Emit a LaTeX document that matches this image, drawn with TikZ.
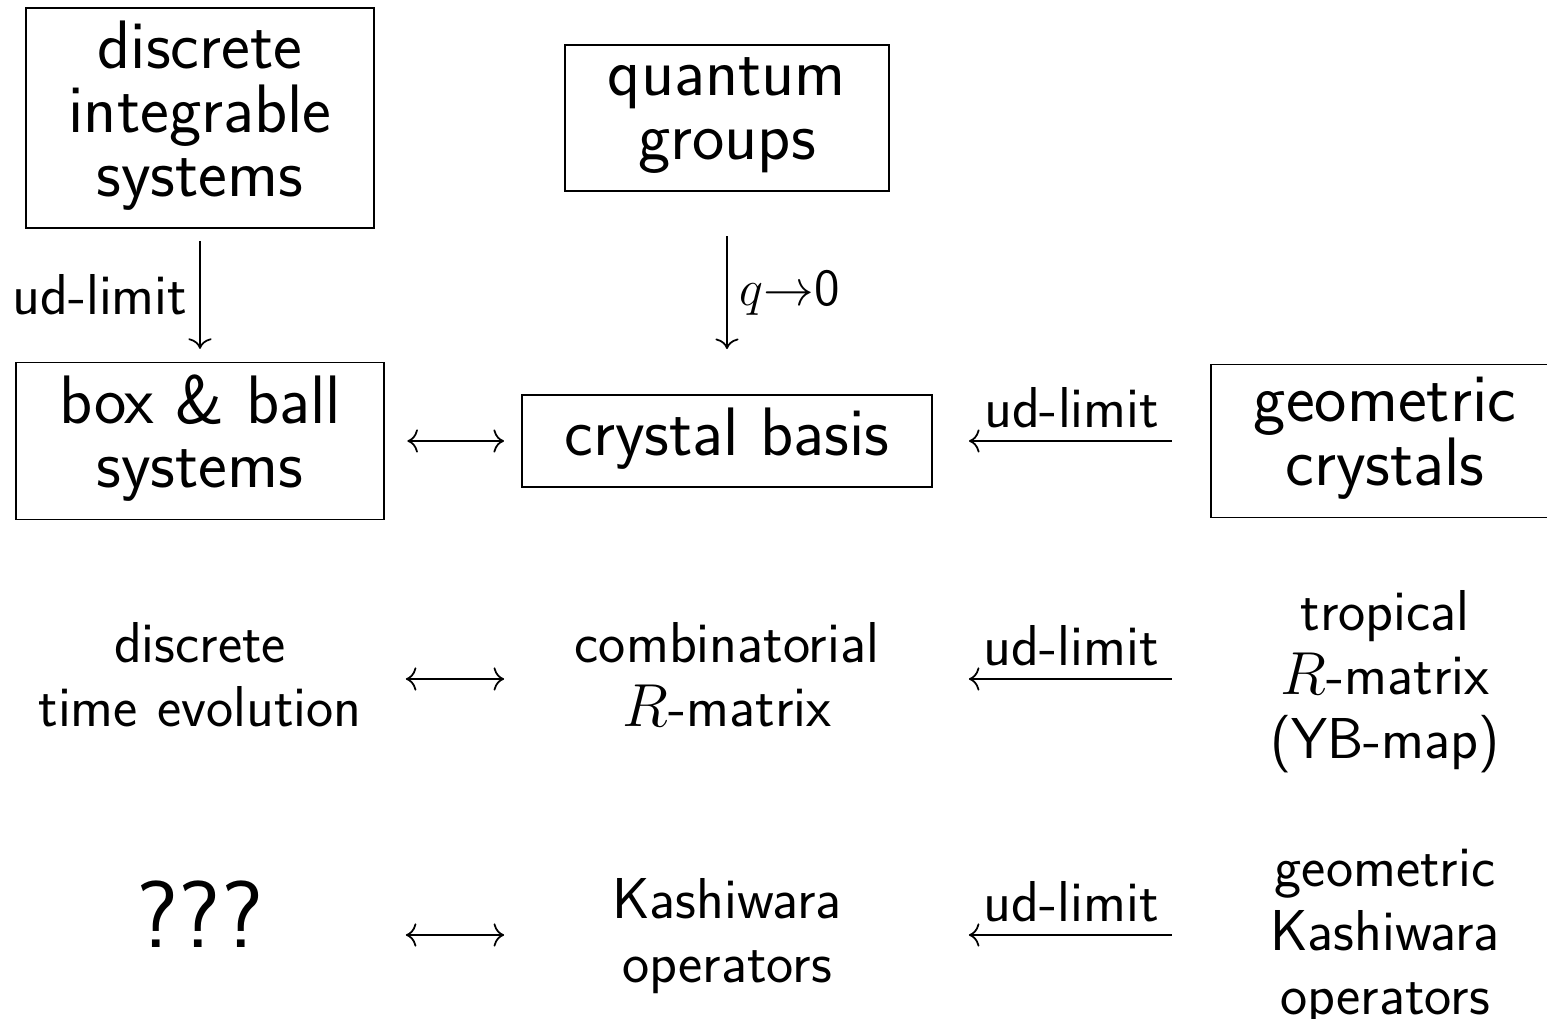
\documentclass[tikz,border=0pt]{standalone}
\usepackage{amsmath}
\usepackage{tikz}
\usetikzlibrary{arrows.meta,positioning}
\newcommand\topstrut{\rule{0pt}{14.3pt}}

\begin{document}
\begin{tikzpicture}[x=0.01cm,y=-0.01cm,line width=0.5pt,
  >={Computer Modern Rightarrow[length=3pt,width=6.6pt]},
  every node/.style={font=\fontsize{16.4}{18.2}\selectfont\sffamily},
  bigbox/.style={draw,align=center,inner xsep=12.2pt,inner ysep=3.6pt,
    font=\fontsize{19.5}{18.2}\selectfont\sffamily,
    execute at begin node=\strut,execute at end node=\strut},
  entry/.style={align=center,inner xsep=0pt,inner ysep=4pt,
    execute at begin node=\topstrut,execute at end node=\strut},
  colA/.style={entry,text width=3.64cm},
  colB/.style={entry,text width=4.10cm},
  colC/.style={entry,text width=3.48cm}]
\useasboundingbox (0,0) rectangle (1547,1019);

% boxed objects
\node[bigbox] (dis) at (200,118) {discrete\\integrable\\systems};
\node[bigbox] (qg) at (727,118) {quantum\\groups};
\node[bigbox] (bb) at (200,441) {box \& ball\\systems};
\node[bigbox] (cb) at (727,441) {crystal basis};
\node[bigbox] (gc) at (1385,441) {geometric\\crystals};

% plain rows
\node[colA] (dte) at (200,679) {discrete\\time evolution};
\node[colB] (crm) at (727,679) {combinatorial\\$R$-matrix};
\node[colC] (trm) at (1385,679) {tropical\\$R$-matrix\\(YB-map)};
\node[colA,font=\fontsize{27}{18.2}\selectfont\sffamily,
  text height=12.74pt,text depth=5.46pt] (unk) at (200,935) {???};
\node[colB] (ko) at (727,935) {Kashiwara\\operators};
\node[colC,execute at begin node=\strut] (gko) at (1385,935) {geometric\\Kashiwara\\operators};

% vertical limits
\draw[->,shorten <=3.4pt,shorten >=3.6pt] (dis) -- node[left] (udA) {ud-limit} (bb);
\draw[->,shorten <=12.5pt,shorten >=12.8pt] (qg) -- node[right,font=\fontsize{14.8}{18.2}\selectfont\sffamily] (qlim) {$q{\rightarrow}$0} (cb);

% correspondences
\draw[<->,shorten <=6.5pt,shorten >=4.8pt] (bb) -- (cb);
\draw[<->,shorten <=6.5pt,shorten >=4.8pt] (dte) -- (crm);
\draw[<->,shorten <=6.5pt,shorten >=4.8pt] (unk) -- (ko);

% ud-limits from the geometric side
\draw[<-,shorten <=10.2pt,shorten >=10.8pt] (cb) -- node[above] (udB) {ud-limit} (gc);
\draw[<-,shorten <=10.2pt,shorten >=10.8pt] (crm) -- node[above] (udC) {ud-limit} (trm);
\draw[<-,shorten <=10.2pt,shorten >=10.8pt] (ko) -- node[above] (udD) {ud-limit} (gko);
\end{tikzpicture}
\end{document}
